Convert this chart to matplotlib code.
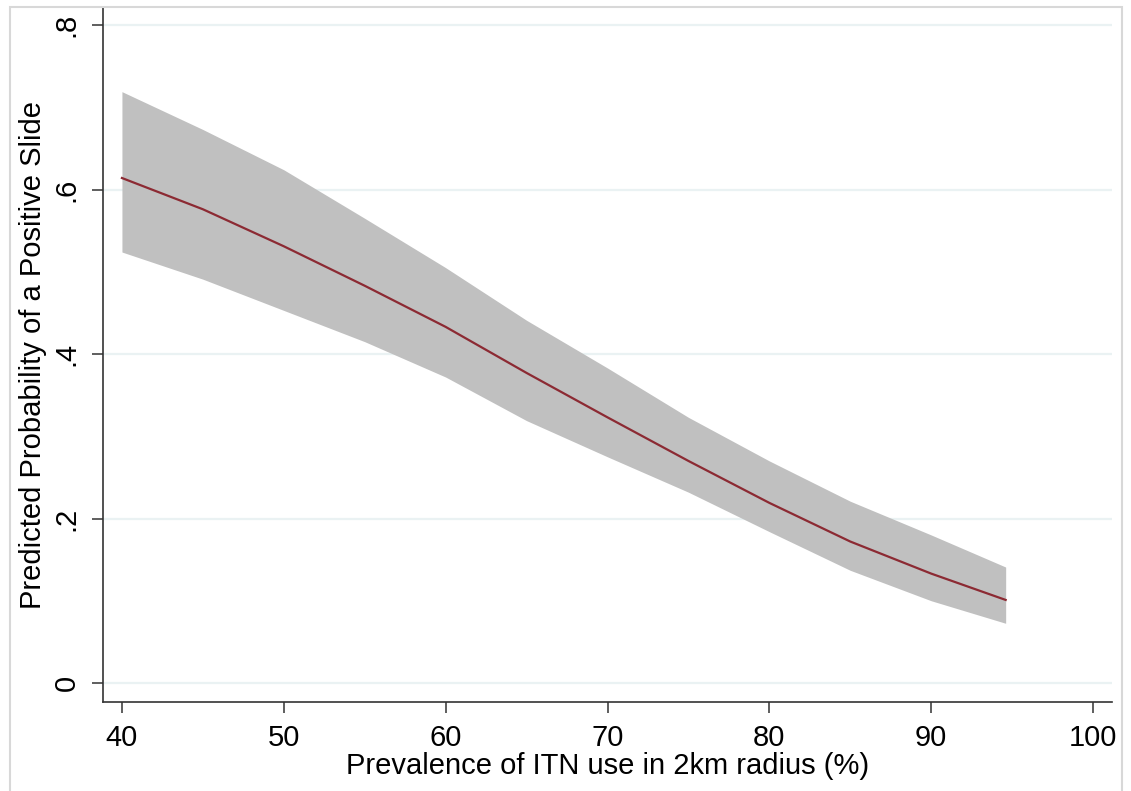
import matplotlib
matplotlib.use("Agg")
import matplotlib.pyplot as plt
from matplotlib.patches import Rectangle

plt.rcParams['font.family'] = ['Liberation Sans', 'DejaVu Sans']

# Data
itn_prev = [40.0, 45.0, 50.0, 55.0, 60.0, 65.0, 70.0, 75.0, 80.0, 85.0, 90.0, 94.6]
pred_prob = [0.614, 0.576, 0.531, 0.483, 0.433, 0.377, 0.323, 0.270, 0.219, 0.172, 0.133, 0.101]
ci_upper = [0.719, 0.673, 0.624, 0.565, 0.505, 0.441, 0.383, 0.323, 0.270, 0.221, 0.180, 0.141]
ci_lower = [0.524, 0.491, 0.453, 0.415, 0.372, 0.319, 0.275, 0.232, 0.184, 0.137, 0.100, 0.0726]

x_ticks = [40, 50, 60, 70, 80, 90, 100]
y_ticks = [0, 0.2, 0.4, 0.6, 0.8]
y_tick_labels = ["0", ".2", ".4", ".6", ".8"]

W, H = 1131, 791
fig = plt.figure(figsize=(W / 100, H / 100), dpi=100)
fig.patch.set_facecolor("white")

# outer light frame
fig.patches.append(Rectangle((10 / W, -0.02), (1122 - 10) / W, 1 - 7 / H + 0.02,
                             transform=fig.transFigure, fill=False,
                             edgecolor="#d8d8d8", linewidth=1.5, zorder=0))

ax = fig.add_axes([103 / W, 1 - 702 / H, (1112 - 103) / W, (702 - 8) / H])
ax.set_facecolor("white")

ax.set_xlim(38.83, 101.17)
ax.set_ylim(-0.0231, 0.8207)

for yv in y_ticks:
    ax.axhline(yv, color="#eaf2f3", linewidth=1.6, zorder=1)

ax.fill_between(itn_prev, ci_lower, ci_upper, color="#c0c0c0", linewidth=0, zorder=2)
ax.plot(itn_prev, pred_prob, color="#8c2a33", linewidth=1.6, zorder=3,
        solid_joinstyle="round")

ax.set_xticks(x_ticks)
ax.set_xticklabels([str(v) for v in x_ticks])
ax.set_yticks(y_ticks)
ax.set_yticklabels(y_tick_labels, rotation=90, va="center")

for side in ["top", "right"]:
    ax.spines[side].set_visible(False)
for side in ["left", "bottom"]:
    ax.spines[side].set_color("#333333")
    ax.spines[side].set_linewidth(1.2)

ax.tick_params(axis="both", direction="out", length=8, width=1.1, color="#333333",
               labelsize=21, pad=8, labelcolor="black")

ax.set_xlabel("Prevalence of ITN use in 2km radius (%)", fontsize=21, labelpad=0)
ax.set_ylabel("Predicted Probability of a Positive Slide", fontsize=21, labelpad=4)

fig.savefig("out.png", dpi=100, facecolor="white")
